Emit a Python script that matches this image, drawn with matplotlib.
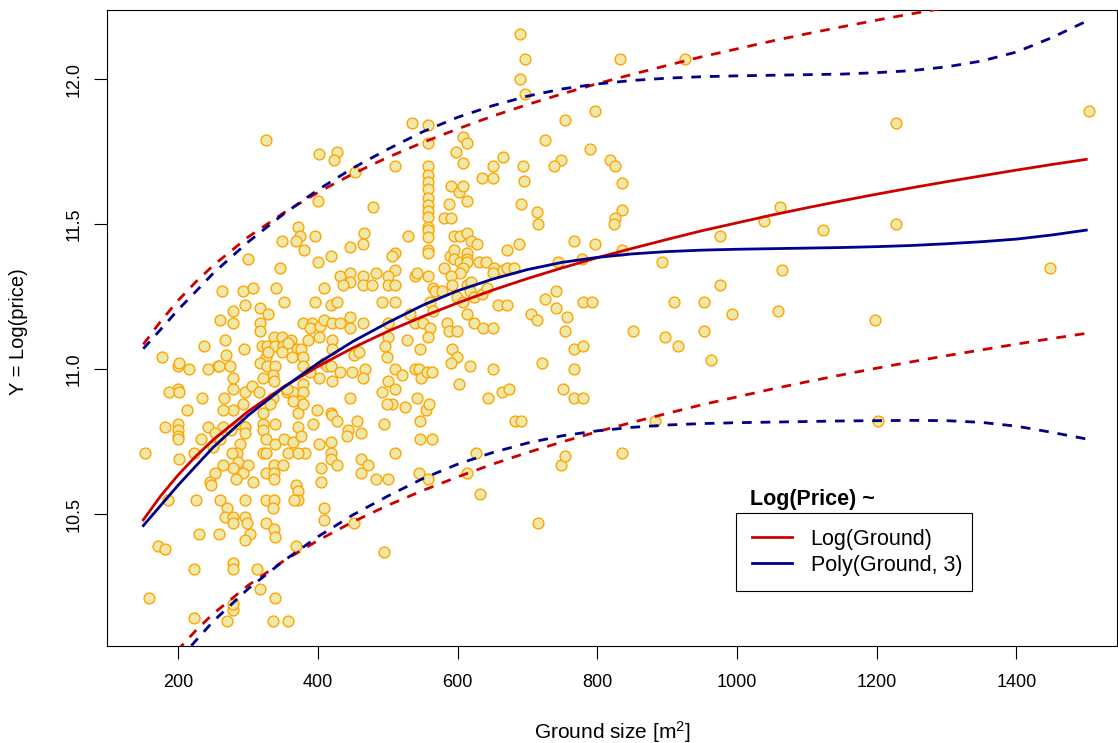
import numpy as np
import matplotlib
matplotlib.use('Agg')
from matplotlib import pyplot as plt
from matplotlib.lines import Line2D

plt.rcParams['font.family'] = ['Liberation Sans', 'DejaVu Sans']
plt.rcParams['mathtext.fontset'] = 'custom'
plt.rcParams['mathtext.rm'] = 'Liberation Sans'
plt.rcParams['mathtext.it'] = 'Liberation Sans:italic'

# scatter: ground size [m2] and log(price)
ground = [
    326, 402, 428, 423, 453, 400, 479,
    690, 697, 690, 697, 833, 535, 797, 753, 725, 790, 748, 738, 818, 826, 836,
    511, 608, 614, 597, 607, 665, 650, 635, 651, 694, 695, 591, 602, 608, 614,
    588, 580, 591, 691, 713, 715, 836, 826, 824,
    558, 558, 558, 558, 558, 558, 558, 558, 558, 558, 558, 558, 558, 558, 558, 558,
    529, 595, 604, 614, 619, 628,
    589, 595, 595, 604, 614, 614, 614, 607, 604, 581,
    511, 506, 511, 501, 501, 511, 539, 542,
    591, 592, 565, 567, 578, 614, 619,
    599, 608, 617, 624, 635, 642,
    631, 641, 652, 651, 665, 671, 680, 670, 688,
    658, 670, 561, 565, 532, 539, 551, 561, 558,
    585, 587, 599, 614, 624, 637, 650,
    492, 511, 501, 501, 496, 528, 546,
    592, 599, 591, 618, 650, 539, 544, 548, 556, 564,
    511, 521, 501, 511, 602, 644, 664, 674,
    542, 554, 559, 546, 506, 524, 495, 682, 691,
    766, 797, 743, 778, 836, 741, 725, 741, 705, 714, 757, 753, 780, 793, 851,
    766, 780, 721, 766, 751, 766, 780,
    564, 546, 511, 544, 558, 501, 614, 627, 632, 748, 753, 836, 715, 494,
    926, 1227, 1504, 1062, 1038, 976, 1123, 1227, 893, 1065, 976, 1448, 910, 953,
    993, 1059, 1198, 897, 952, 916, 963, 883, 1202,
    372, 375, 368, 349, 396, 380, 466, 465, 446, 400, 419, 300, 345,
    432, 446, 446, 436, 465, 465, 478, 483, 408,
    262, 293, 307, 340, 352, 396, 419, 428,
    296, 279, 279, 260, 317, 329, 317, 317,
    379, 392, 388, 403, 409, 420, 432, 446, 446, 465,
    402, 420, 420, 267, 237, 294, 269, 177,
    337, 349, 362, 320, 327, 339, 350, 357, 370, 376, 386,
    349, 363, 326, 329, 378, 379,
    200, 216, 201, 243, 257, 259, 274,
    317, 327, 339, 335, 322, 337, 279, 279,
    408, 413, 419, 431, 420, 402, 389, 379,
    451, 459, 468, 465, 449, 499,
    200, 187, 201, 234, 213,
    266, 279, 264, 292, 296, 306, 315, 335, 332, 322,
    356, 365, 379, 375, 365, 355, 372, 378, 398, 418, 420,
    446, 492, 499, 264, 276,
    181, 200, 200, 200, 200, 243, 252, 233, 260,
    153, 201, 223, 250,
    289, 296, 296, 289, 284, 277, 286, 300, 279, 293, 283,
    264, 252, 246, 247, 307,
    322, 339, 322, 325, 339, 322, 326, 357, 352, 365, 372, 376, 382, 372,
    393, 402, 418, 419, 419, 428, 405, 405,
    337, 350, 325, 337, 337,
    443, 442, 461, 456, 428,
    461, 471, 461, 483,
    368, 372, 372, 366,
    186, 226, 260, 270, 296, 325, 337, 335,
    267, 279, 279, 296, 299, 303, 296, 326, 337, 339,
    230, 259, 409, 409, 451,
    171, 181, 369,
    223, 279, 279, 313,
    158, 317, 339,
    223, 270, 279, 279, 336, 357,
]
log_price = [
    11.79, 11.74, 11.75, 11.72, 11.68, 11.58, 11.56,
    12.155, 12.07, 12.00, 11.95, 12.07, 11.85, 11.89, 11.86, 11.79, 11.76, 11.72, 11.70, 11.72, 11.70, 11.64,
    11.70, 11.80, 11.78, 11.75, 11.71, 11.73, 11.70, 11.66, 11.66, 11.70, 11.65, 11.63, 11.61, 11.63, 11.58,
    11.57, 11.52, 11.52, 11.57, 11.54, 11.50, 11.55, 11.52, 11.50,
    11.84, 11.78, 11.70, 11.67, 11.645, 11.62, 11.59, 11.565, 11.545, 11.525, 11.49, 11.48, 11.455, 11.41, 11.40, 11.32,
    11.46, 11.46, 11.46, 11.47, 11.44, 11.43,
    11.39, 11.41, 11.38, 11.37, 11.40, 11.38, 11.37, 11.35, 11.33, 11.35,
    11.40, 11.39, 11.34, 11.32, 11.29, 11.29, 11.32, 11.33,
    11.32, 11.29, 11.28, 11.27, 11.27, 11.29, 11.30,
    11.25, 11.23, 11.27, 11.25, 11.26, 11.28,
    11.37, 11.37, 11.35, 11.33, 11.34, 11.35, 11.35, 11.41, 11.43,
    11.22, 11.22, 11.23, 11.20, 11.19, 11.16, 11.16, 11.14, 11.11,
    11.16, 11.13, 11.13, 11.19, 11.16, 11.14, 11.14,
    11.23, 11.23, 11.16, 11.11, 11.08, 11.10, 11.07,
    11.07, 11.04, 11.02, 11.01, 11.00, 11.00, 11.00, 10.97, 10.99, 10.99,
    11.00, 10.98, 10.96, 10.93, 10.95, 10.90, 10.92, 10.93,
    10.90, 10.86, 10.88, 10.82, 10.88, 10.87, 10.81, 10.82, 10.82,
    11.44, 11.43, 11.37, 11.38, 11.41, 11.27, 11.24, 11.21, 11.19, 11.17, 11.18, 11.13, 11.23, 11.23, 11.13,
    11.07, 11.08, 11.02, 11.00, 10.93, 10.90, 10.90,
    10.76, 10.76, 10.71, 10.64, 10.62, 10.62, 10.64, 10.71, 10.57, 10.67, 10.70, 10.71, 10.47, 10.37,
    12.07, 11.85, 11.89, 11.56, 11.51, 11.46, 11.48, 11.50, 11.37, 11.34, 11.29, 11.35, 11.23, 11.23,
    11.19, 11.20, 11.17, 11.11, 11.13, 11.08, 11.03, 10.82, 10.82,
    11.49, 11.46, 11.44, 11.44, 11.46, 11.41, 11.47, 11.43, 11.42, 11.37, 11.39, 11.38, 11.35,
    11.32, 11.33, 11.30, 11.29, 11.32, 11.29, 11.29, 11.33, 11.28,
    11.27, 11.27, 11.28, 11.28, 11.23, 11.23, 11.22, 11.23,
    11.22, 11.20, 11.16, 11.17, 11.21, 11.19, 11.16, 11.13,
    11.16, 11.16, 11.14, 11.15, 11.17, 11.16, 11.16, 11.18, 11.14, 11.16,
    11.11, 11.10, 11.07, 11.10, 11.08, 11.07, 11.05, 11.04,
    11.11, 11.11, 11.10, 11.08, 11.08, 11.08, 11.08, 11.09, 11.07, 11.07, 11.10,
    11.06, 11.04, 11.04, 11.06, 11.04, 11.01,
    11.01, 11.00, 11.02, 11.00, 11.01, 11.01, 11.01,
    11.02, 11.01, 11.01, 10.98, 10.97, 10.96, 10.97, 10.93,
    11.02, 11.01, 11.01, 10.99, 10.96, 10.97, 10.99, 10.95,
    11.05, 11.06, 11.00, 10.97, 10.99, 11.04,
    10.93, 10.92, 10.92, 10.90, 10.86,
    10.90, 10.86, 10.86, 10.88, 10.92, 10.94, 10.92, 10.90, 10.88, 10.85,
    10.92, 10.92, 10.92, 10.89, 10.89, 10.93, 10.85, 10.88, 10.86, 10.85, 10.84,
    10.90, 10.92, 10.88, 10.80, 10.79,
    10.80, 10.81, 10.79, 10.77, 10.76, 10.80, 10.78, 10.76, 10.76,
    10.71, 10.69, 10.71, 10.73,
    10.81, 10.80, 10.78, 10.74, 10.71, 10.71, 10.68, 10.67, 10.66, 10.64, 10.62,
    10.67, 10.64, 10.61, 10.60, 10.61,
    10.81, 10.81, 10.79, 10.76, 10.74, 10.71, 10.71, 10.71, 10.76, 10.75, 10.80, 10.77, 10.71, 10.71,
    10.81, 10.74, 10.75, 10.71, 10.69, 10.67, 10.66, 10.61,
    10.67, 10.67, 10.64, 10.64, 10.62,
    10.79, 10.77, 10.78, 10.82, 10.82,
    10.69, 10.67, 10.64, 10.62,
    10.60, 10.58, 10.55, 10.55,
    10.55, 10.55, 10.55, 10.52, 10.55, 10.55, 10.55, 10.52,
    10.49, 10.49, 10.47, 10.49, 10.47, 10.43, 10.41, 10.47, 10.45, 10.42,
    10.43, 10.43, 10.52, 10.48, 10.47,
    10.39, 10.38, 10.39,
    10.31, 10.33, 10.31, 10.31,
    10.21, 10.24, 10.21,
    10.14, 10.13, 10.17, 10.19, 10.13, 10.13,
]

# fitted curves and prediction bands
grid = [150, 175, 200, 225, 250, 300, 350, 400, 450, 500, 550, 600, 650, 700, 750,
        800, 850, 900, 950, 1000, 1050, 1100, 1150, 1200, 1250, 1300, 1350, 1400, 1450, 1500]
log_fit = [10.480, 10.563, 10.635, 10.699, 10.756, 10.854, 10.937, 11.009, 11.073, 11.130,
           11.181, 11.228, 11.272, 11.312, 11.349, 11.384, 11.416, 11.447, 11.477, 11.504,
           11.531, 11.556, 11.580, 11.603, 11.625, 11.646, 11.666, 11.686, 11.705, 11.723]
log_upr = [11.085, 11.165, 11.237, 11.300, 11.357, 11.455, 11.537, 11.609, 11.673, 11.730,
           11.781, 11.828, 11.872, 11.912, 11.949, 11.984, 12.016, 12.047, 12.077, 12.104,
           12.131, 12.156, 12.180, 12.203, 12.225, 12.246, 12.266, 12.286, 12.305, 12.323]
log_lwr = [9.875, 9.961, 10.033, 10.098, 10.156, 10.254, 10.337, 10.409, 10.473, 10.530,
           10.581, 10.628, 10.672, 10.712, 10.749, 10.784, 10.816, 10.847, 10.877, 10.904,
           10.931, 10.956, 10.980, 11.003, 11.025, 11.046, 11.066, 11.086, 11.105, 11.123]
poly_fit = [10.46, 10.53, 10.60, 10.665, 10.73, 10.84, 10.935, 11.02, 11.095, 11.16,
            11.22, 11.27, 11.31, 11.343, 11.368, 11.385, 11.397, 11.405, 11.41, 11.413,
            11.415, 11.417, 11.419, 11.422, 11.426, 11.432, 11.439, 11.448, 11.462, 11.479]
poly_upr = [11.07, 11.137, 11.205, 11.267, 11.33, 11.438, 11.533, 11.618, 11.693, 11.758,
            11.818, 11.868, 11.908, 11.941, 11.966, 11.983, 11.995, 12.003, 12.008, 12.011,
            12.013, 12.015, 12.017, 12.022, 12.029, 12.042, 12.062, 12.093, 12.142, 12.199]
poly_lwr = [9.85, 9.923, 9.995, 10.063, 10.13, 10.242, 10.337, 10.422, 10.497, 10.562,
            10.622, 10.672, 10.712, 10.745, 10.77, 10.787, 10.799, 10.807, 10.812, 10.815,
            10.817, 10.819, 10.821, 10.822, 10.823, 10.822, 10.816, 10.803, 10.782, 10.759]

red = '#CD0000'
blue = '#00008B'

fig = plt.figure(figsize=(11.18, 7.43), dpi=100)
ax = fig.add_axes([107 / 1118, 97 / 743, 1010 / 1118, 636 / 743])

ax.plot(ground, log_price, 'o', ms=7.8, mfc='#EEE8AA', mec='#FFA500', mew=1.0, zorder=2)

ax.plot(grid, log_fit, color=red, lw=2.0, zorder=3, solid_joinstyle='round')
ax.plot(grid, poly_fit, color=blue, lw=2.0, zorder=3, solid_joinstyle='round')
for band, col in [(log_upr, red), (log_lwr, red), (poly_upr, blue), (poly_lwr, blue)]:
    ax.plot(grid, band, color=col, lw=2.0, ls=(0, (3.5, 3.2)), zorder=3)

ax.set_xlim(98, 1544)
ax.set_ylim(10.045, 12.238)
ax.set_xticks([200, 400, 600, 800, 1000, 1200, 1400])
ax.set_yticks([10.5, 11.0, 11.5, 12.0])
ax.tick_params(direction='out', length=9.4, width=0.8, labelsize=13, color='black')
ax.tick_params(axis='x', pad=11)
ax.tick_params(axis='y', pad=8)
plt.setp(ax.get_yticklabels(), rotation=90, va='center')
for sp in ax.spines.values():
    sp.set_linewidth(0.8)

ax.set_xlabel('Ground size [m$^2$]', fontsize=15)
ax.xaxis.set_label_coords(0.5, -0.135)
ax.xaxis.label.set_verticalalignment('center')
ax.set_ylabel('Y = Log(price)', fontsize=14.5)
ax.yaxis.set_label_coords(-0.088, 0.494)
ax.yaxis.label.set_verticalalignment('center')

handles = [Line2D([], [], color=red, lw=2.0), Line2D([], [], color=blue, lw=2.0)]
leg = ax.legend(handles, ['Log(Ground)', 'Poly(Ground, 3)'], loc='upper left',
                bbox_to_anchor=(0.6228, 0.0865, 0.2336, 0.1226), mode='expand',
                fancybox=False, edgecolor='black', framealpha=1, borderpad=0.72,
                handlelength=1.86, handletextpad=0.88, labelspacing=0.25,
                fontsize=15.5, borderaxespad=0)
leg.get_frame().set_linewidth(0.8)
ax.text(0.6366, 0.2311, 'Log(Price) ~', transform=ax.transAxes, fontsize=15.5,
        fontweight='bold', ha='left', va='center')

fig.savefig('out.png', dpi=100)
